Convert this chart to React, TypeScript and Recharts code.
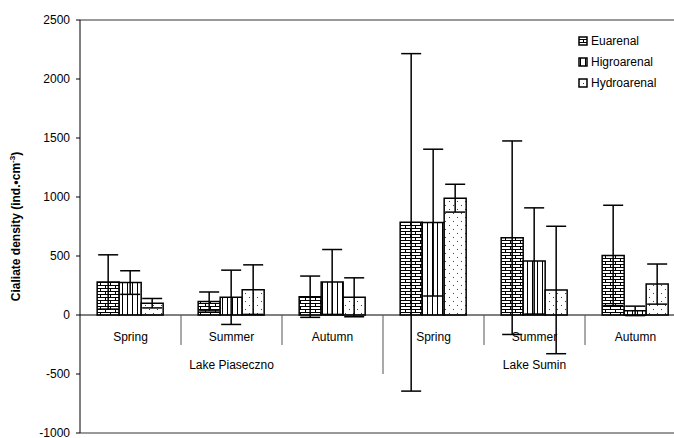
import React from "react";
import { BarChart, Bar, XAxis, YAxis, ErrorBar, ReferenceLine } from "recharts";

// categories
const seasons = ["Spring", "Summer", "Autumn", "Spring", "Summer", "Autumn"];
const lakes = ["Lake Piaseczno", "Lake Piaseczno", "Lake Piaseczno", "Lake Sumin", "Lake Sumin", "Lake Sumin"];

// mean densities and SD
const euarenal = [280, 115, 155, 785, 655, 505];
const euarenalErr = [230, 80, 175, 1430, 820, 425];
const higroarenal = [275, 150, 280, 783, 458, 35];
const higroarenalErr = [100, 230, 275, 622, 450, 40];
const hydroarenal = [100, 215, 150, 990, 212, 262];
const hydroarenalErr = [40, 210, 165, 118, 540, 170];

const yTicks = [-1000, -500, 0, 500, 1000, 1500, 2000, 2500];

const data = seasons.map((s, i) => ({
    key: s + i,
    season: s,
    lake: lakes[i],
    euarenal: euarenal[i],
    euarenalErr: euarenalErr[i],
    higroarenal: higroarenal[i],
    higroarenalErr: higroarenalErr[i],
    hydroarenal: hydroarenal[i],
    hydroarenalErr: hydroarenalErr[i],
}));

const series = [
    { key: "euarenal", name: "Euarenal", fill: "url(#brick)" },
    { key: "higroarenal", name: "Higroarenal", fill: "url(#vlines)" },
    { key: "hydroarenal", name: "Hydroarenal", fill: "url(#dots)" },
];

const FONT = "'Liberation Sans', Arial, sans-serif";
const PLOT_TOP = 20;
const PLOT_H = 413;
const Y_MIN = -1000;
const Y_MAX = 2500;
const zeroY = PLOT_TOP + (PLOT_H * Y_MAX) / (Y_MAX - Y_MIN);

const SeasonTick = (props: any) => {
    const { x, payload } = props;
    const half = payload.offset || 50.5;
    const i = payload.index;
    const left = x - half;
    const lakeChange = i > 0 && lakes[i] !== lakes[i - 1];
    return (
        <g>
            {i > 0 && (
                <line x1={left} x2={left} y1={zeroY} y2={zeroY + (lakeChange ? 59 : 30)} stroke="#555" strokeWidth={1} />
            )}
            <text x={x} y={zeroY + 26} textAnchor="middle" fontSize={12} fontFamily={FONT} fill="#000">
                {seasons[i]}
            </text>
            {(i === 1 || i === 4) && (
                <text x={x} y={zeroY + 54} textAnchor="middle" fontSize={12} fontFamily={FONT} fill="#000">
                    {lakes[i]}
                </text>
            )}
        </g>
    );
};

const YLabel = () => {
    const cy = PLOT_TOP + PLOT_H / 2;
    const cx = 20;
    return (
        <text
            x={cx}
            y={cy}
            transform={`rotate(-90 ${cx} ${cy})`}
            textAnchor="middle"
            fontSize={12}
            fontWeight="bold"
            fontFamily={FONT}
            fill="#000">
            Cialiate density (ind.•cm<tspan dy={-5} fontSize={8}>-3</tspan>
            <tspan dy={5}>)</tspan>
        </text>
    );
};

const LegendBox = () => (
    <div style={{ position: "absolute", left: 578, top: 30, fontFamily: FONT, fontSize: 12, color: "#000" }}>
        {series.map(s => (
            <div key={s.key} style={{ display: "flex", alignItems: "center", height: 21 }}>
                <svg width={10} height={10} style={{ marginRight: 3 }}>
                    <rect x={1} y={1} width={8} height={8} fill={s.fill} stroke="#000" strokeWidth={1.5} />
                </svg>
                {s.name}
            </div>
        ))}
    </div>
);

export default function App() {
    return (
        <div style={{ position: "absolute", left: 0, top: 0, width: 674, height: 438, overflow: "hidden", background: "#fff" }}>
            <BarChart
                width={700}
                height={438}
                data={data}
                margin={{ top: PLOT_TOP, right: 14, bottom: 0, left: 0 }}
                barCategoryGap="17%"
                barGap={0}>
                <defs>
                    <pattern id="brick" width={10} height={6} patternUnits="userSpaceOnUse">
                        <rect width={10} height={6} fill="#fff" />
                        <line x1={0} x2={10} y1={0.5} y2={0.5} stroke="#000" strokeWidth={1} />
                        <line x1={0} x2={10} y1={3.5} y2={3.5} stroke="#000" strokeWidth={1} />
                        <line x1={0.5} x2={0.5} y1={0} y2={3.5} stroke="#000" strokeWidth={1} />
                        <line x1={5.5} x2={5.5} y1={3.5} y2={6} stroke="#000" strokeWidth={1} />
                    </pattern>
                    <pattern id="vlines" width={5} height={5} patternUnits="userSpaceOnUse">
                        <rect width={5} height={5} fill="#fff" />
                        <line x1={2.5} x2={2.5} y1={0} y2={5} stroke="#000" strokeWidth={1} />
                    </pattern>
                    <pattern id="dots" width={8} height={8} patternUnits="userSpaceOnUse">
                        <rect width={8} height={8} fill="#fff" />
                        <rect x={1} y={1} width={1} height={1} fill="#444" />
                        <rect x={5} y={5} width={1} height={1} fill="#444" />
                    </pattern>
                </defs>
                <XAxis
                    dataKey="key"
                    height={5}
                    axisLine={false}
                    tickLine={false}
                    interval={0}
                    tick={<SeasonTick />} />
                <YAxis
                    width={80}
                    domain={[Y_MIN, Y_MAX]}
                    ticks={yTicks}
                    allowDataOverflow
                    interval={0}
                    axisLine={{ stroke: "#000", strokeWidth: 1 }}
                    tickLine={{ stroke: "#000" }}
                    tickSize={4}
                    tickMargin={6}
                    tick={{ fontSize: 12, fontFamily: FONT, fill: "#000" }}
                    label={<YLabel />} />
                <ReferenceLine y={Y_MAX} stroke="#999" strokeWidth={2} />
                <ReferenceLine y={Y_MIN} stroke="#999" strokeWidth={2} />
                {series.map(s => (
                    <Bar
                        key={s.key}
                        dataKey={s.key}
                        name={s.name}
                        fill={s.fill}
                        stroke="#000"
                        strokeWidth={1.5}
                        isAnimationActive={false}>
                        <ErrorBar dataKey={s.key + "Err"} width={10} stroke="#000" strokeWidth={1.5} direction="y" />
                    </Bar>
                ))}
                <ReferenceLine y={0} stroke="#000" strokeWidth={1} />
            </BarChart>
            <LegendBox />
        </div>
    );
}
